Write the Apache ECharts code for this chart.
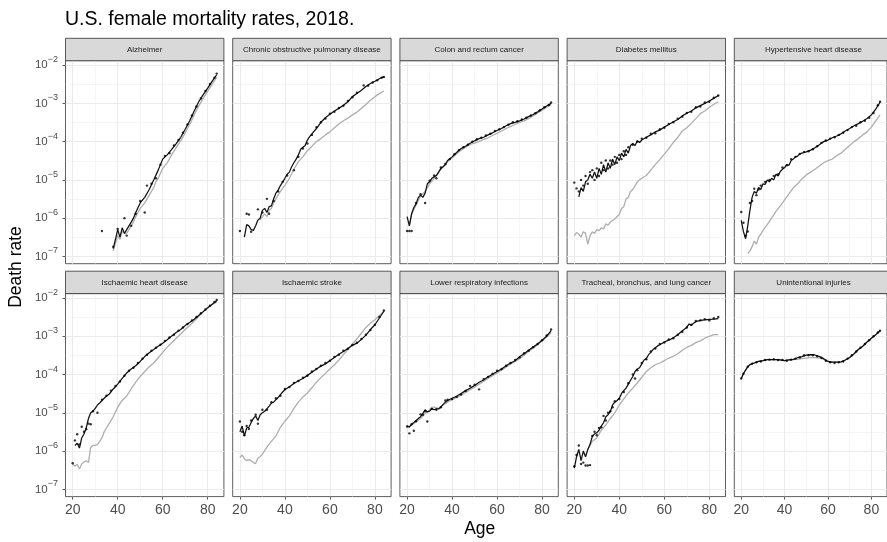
<!DOCTYPE html>
<html><head><meta charset="utf-8">
<script src="https://cdn.jsdelivr.net/npm/echarts@6/dist/echarts.min.js"></script>
<style>html,body{margin:0;padding:0;background:#fff}#c{width:887px;height:542px}</style>
</head><body><div id="c"></div><script>
const chartTitle = 'U.S. female mortality rates, 2018.';
const xTitle = 'Age';
const yTitle = 'Death rate';
const panelTitles = ['Alzheimer','Chronic obstructive pulmonary disease','Colon and rectum cancer','Diabetes mellitus','Hypertensive heart disease','Ischaemic heart disease','Ischaemic stroke','Lower respiratory infections','Tracheal, bronchus, and lung cancer','Unintentional injuries'];
const ageTicks = [20,40,60,80];
const rateTickExponents = [-7,-6,-5,-4,-3,-2];

// [age, death rate]
const alzheimerDots = [[33,4.6e-7],[38,1.8e-7],[40,5.2e-7],[43,1.0e-6],[44,3.5e-7],[46,6.3e-7],[48,1.3e-6],[50,2.8e-6],[52,1.4e-6],[53,7.1e-6],[55,7.9e-6],[57,1.1e-5],[59,2.5e-5],[61,4.2e-5],[63,5.0e-5],[65,7.9e-5],[67,1.1e-4],[69,1.7e-4],[71,2.8e-4],[73,4.8e-4],[75,8.3e-4],[77,1.35e-3],[79,2.1e-3],[81,3.2e-3],[83,4.7e-3],[84,6.0e-3]];
const alzheimerBlack = [[38,1.6e-7],[39,2.8e-7],[40,5.0e-7],[41,3.2e-7],[42,5.6e-7],[43,4.0e-7],[44,5.0e-7],[45,6.3e-7],[46,7.9e-7],[47,1.0e-6],[48,1.4e-6],[50,2.5e-6],[52,3.5e-6],[54,5.6e-6],[56,1.0e-5],[58,1.8e-5],[60,3.5e-5],[61,4.0e-5],[62,4.5e-5],[64,6.3e-5],[66,8.9e-5],[68,1.3e-4],[70,2.1e-4],[72,3.5e-4],[74,6.3e-4],[76,1.1e-3],[78,1.7e-3],[80,2.5e-3],[82,3.8e-3],[84,5.6e-3]];
const alzheimerGray = [[38,1.4e-7],[40,3.5e-7],[41,2.8e-7],[42,4.5e-7],[43,4.0e-7],[44,4.0e-7],[45,5.0e-7],[46,6.3e-7],[47,7.9e-7],[48,1.1e-6],[50,1.8e-6],[52,2.5e-6],[54,4.0e-6],[56,6.3e-6],[57,8.9e-6],[58,1.1e-5],[60,2.0e-5],[62,2.8e-5],[64,4.5e-5],[66,7.1e-5],[68,1.05e-4],[70,1.7e-4],[72,2.8e-4],[74,5.0e-4],[76,8.5e-4],[78,1.35e-3],[80,2.1e-3],[82,3.2e-3],[84,4.8e-3]];

const copdDots = [[20,4.6e-7],[23,1.3e-6],[24,1.25e-6],[25,4.4e-7],[28,1.7e-6],[30,1.4e-6],[32,3.2e-6],[33,1.3e-6],[35,2.8e-6],[37,5.0e-6],[39,8.9e-6],[41,1.3e-5],[44,1.8e-5],[46,4.0e-5],[48,6.6e-5],[50,8.9e-5],[52,1.5e-4],[54,2.4e-4],[56,3.2e-4],[58,4.0e-4],[60,5.4e-4],[62,6.0e-4],[64,7.6e-4],[66,8.7e-4],[68,1.15e-3],[70,1.45e-3],[72,1.9e-3],[75,2.95e-3],[77,2.9e-3],[79,3.5e-3],[81,4.0e-3],[83,4.7e-3],[84,4.9e-3]];
const copdBlack = [[22,3.2e-7],[23,6.8e-7],[24,6.3e-7],[25,5.0e-7],[26,4.8e-7],[27,6.3e-7],[28,8.9e-7],[29,1.0e-6],[30,1.6e-6],[31,1.8e-6],[32,1.4e-6],[33,2.0e-6],[34,2.1e-6],[35,3.2e-6],[36,4.5e-6],[37,5.4e-6],[38,7.1e-6],[40,1.1e-5],[41,1.4e-5],[42,1.6e-5],[43,2.2e-5],[44,2.8e-5],[45,3.5e-5],[46,4.5e-5],[47,6.3e-5],[48,7.1e-5],[49,7.9e-5],[50,1.1e-4],[51,1.35e-4],[52,1.6e-4],[54,2.2e-4],[56,3.2e-4],[58,4.2e-4],[60,5.2e-4],[62,6.3e-4],[64,7.4e-4],[66,8.9e-4],[68,1.1e-3],[70,1.5e-3],[72,1.8e-3],[74,2.2e-3],[76,2.75e-3],[78,3.3e-3],[80,3.8e-3],[82,4.4e-3],[84,5.0e-3]];
const copdGray = [[29,8.9e-7],[30,1.1e-6],[31,1.3e-6],[32,1.1e-6],[33,1.6e-6],[34,1.8e-6],[35,2.5e-6],[36,3.2e-6],[38,5.0e-6],[40,7.2e-6],[42,1.1e-5],[44,1.9e-5],[46,3.0e-5],[48,4.0e-5],[50,5.8e-5],[52,7.6e-5],[54,1.0e-4],[56,1.2e-4],[58,1.5e-4],[60,1.8e-4],[62,2.3e-4],[64,2.9e-4],[66,3.5e-4],[68,4.1e-4],[70,5.0e-4],[72,5.9e-4],[74,7.4e-4],[76,9.3e-4],[78,1.2e-3],[80,1.5e-3],[82,1.8e-3],[84,2.1e-3]];

const colonDots = [[20,4.6e-7],[21,4.6e-7],[22,4.6e-7],[24,2.5e-6],[26,4.2e-6],[28,2.5e-6],[30,9.5e-6],[32,1.3e-5],[33,1.1e-5],[35,2.1e-5],[37,2.6e-5],[39,3.5e-5],[41,4.7e-5],[43,6.0e-5],[45,7.1e-5],[47,8.3e-5],[49,1.0e-4],[51,1.15e-4],[53,1.26e-4],[55,1.45e-4],[57,1.6e-4],[59,1.9e-4],[61,2.1e-4],[63,2.4e-4],[65,2.75e-4],[67,3.2e-4],[69,3.4e-4],[71,3.8e-4],[73,4.2e-4],[75,4.8e-4],[77,5.5e-4],[79,6.6e-4],[81,7.9e-4],[83,9.1e-4],[84,1.05e-3]];
const colonBlack = [[20,1.1e-6],[21,6.3e-7],[22,1.3e-6],[23,1.9e-6],[24,2.4e-6],[25,3.5e-6],[26,4.0e-6],[27,3.5e-6],[28,4.5e-6],[29,7.9e-6],[30,8.9e-6],[31,1.1e-5],[32,1.2e-5],[33,1.3e-5],[34,1.6e-5],[35,2.0e-5],[36,2.2e-5],[37,2.5e-5],[38,3.2e-5],[40,4.0e-5],[42,5.2e-5],[44,6.6e-5],[46,7.6e-5],[48,9.1e-5],[50,1.05e-4],[52,1.2e-4],[54,1.3e-4],[56,1.5e-4],[58,1.7e-4],[60,1.95e-4],[62,2.2e-4],[64,2.6e-4],[66,2.95e-4],[68,3.2e-4],[70,3.5e-4],[72,3.9e-4],[74,4.5e-4],[76,5.1e-4],[78,6.0e-4],[80,7.1e-4],[82,8.5e-4],[84,1.0e-3]];
const colonGray = [[21,6.3e-7],[22,1.26e-6],[24,2.2e-6],[26,3.8e-6],[28,5.0e-6],[30,7.9e-6],[32,1.1e-5],[34,1.6e-5],[36,2.2e-5],[38,3.0e-5],[40,3.8e-5],[42,4.8e-5],[44,6.0e-5],[46,7.2e-5],[48,8.5e-5],[50,9.1e-5],[52,1.02e-4],[54,1.15e-4],[56,1.26e-4],[58,1.45e-4],[60,1.66e-4],[62,1.9e-4],[64,2.2e-4],[66,2.5e-4],[68,2.8e-4],[70,3.2e-4],[72,3.5e-4],[74,4.0e-4],[76,4.7e-4],[78,5.6e-4],[80,6.6e-4],[82,7.9e-4],[84,9.3e-4]];

const diabetesDots = [[20,8.5e-6],[21,6.0e-6],[22,5.0e-6],[23,1.0e-5],[24,7.1e-6],[25,1.26e-5],[26,7.9e-6],[27,1.6e-5],[28,1.8e-5],[29,1.0e-5],[30,2.0e-5],[31,1.26e-5],[32,2.8e-5],[33,1.8e-5],[34,3.2e-5],[35,2.0e-5],[36,3.2e-5],[37,2.5e-5],[38,4.0e-5],[39,2.8e-5],[40,4.5e-5],[41,3.5e-5],[42,5.6e-5],[43,4.5e-5],[44,7.1e-5],[46,8.3e-5],[48,1.0e-4],[50,1.2e-4],[52,1.26e-4],[54,1.6e-4],[56,1.66e-4],[58,2.1e-4],[60,2.3e-4],[62,2.9e-4],[64,3.2e-4],[66,4.0e-4],[68,4.5e-4],[70,5.6e-4],[72,6.0e-4],[74,7.9e-4],[76,8.3e-4],[78,1.05e-3],[80,1.1e-3],[82,1.4e-3],[84,1.6e-3]];
const diabetesBlack = [[22,3.6e-6],[23,6.3e-6],[24,5.0e-6],[25,8.9e-6],[26,1.0e-5],[27,1.4e-5],[28,1.1e-5],[29,1.6e-5],[30,1.1e-5],[31,2.0e-5],[32,1.4e-5],[33,2.5e-5],[34,1.6e-5],[35,2.8e-5],[36,2.0e-5],[37,3.5e-5],[38,2.5e-5],[39,4.0e-5],[40,3.2e-5],[41,5.0e-5],[42,4.0e-5],[43,6.3e-5],[44,5.0e-5],[45,7.9e-5],[46,8.9e-5],[47,7.9e-5],[48,1.05e-4],[49,9.5e-5],[50,1.1e-4],[52,1.3e-4],[54,1.5e-4],[56,1.8e-4],[58,2.0e-4],[60,2.4e-4],[62,2.8e-4],[64,3.3e-4],[66,3.8e-4],[68,4.7e-4],[70,5.5e-4],[72,6.3e-4],[74,7.6e-4],[76,8.7e-4],[78,1.0e-3],[80,1.15e-3],[82,1.35e-3],[84,1.6e-3]];
const diabetesGray = [[20,3.5e-7],[21,4.2e-7],[22,3.8e-7],[23,3.2e-7],[24,4.4e-7],[25,4.0e-7],[26,2.1e-7],[27,3.5e-7],[28,4.4e-7],[29,4.0e-7],[30,5.0e-7],[31,4.7e-7],[32,5.6e-7],[33,5.2e-7],[34,7.1e-7],[35,6.6e-7],[36,7.9e-7],[38,9.5e-7],[40,1.26e-6],[41,1.8e-6],[42,2.0e-6],[43,3.2e-6],[44,3.5e-6],[45,5.0e-6],[46,5.6e-6],[48,8.9e-6],[50,1.1e-5],[52,1.3e-5],[54,1.8e-5],[56,2.5e-5],[58,3.4e-5],[60,4.7e-5],[62,6.6e-5],[64,9.5e-5],[66,1.3e-4],[68,1.9e-4],[70,2.3e-4],[72,3.0e-4],[74,4.0e-4],[76,5.4e-4],[78,6.3e-4],[80,7.9e-4],[82,9.5e-4],[84,1.1e-3]];

const hypertensiveDots = [[20,1.45e-6],[21,7.6e-7],[22,3.5e-7],[23,4.5e-7],[24,2.5e-6],[25,2.8e-6],[26,5.9e-6],[27,4.0e-6],[28,5.6e-6],[29,7.1e-6],[31,8.9e-6],[33,1.0e-5],[35,1.26e-5],[37,1.4e-5],[39,2.1e-5],[41,2.4e-5],[43,3.5e-5],[45,4.0e-5],[47,4.8e-5],[49,5.4e-5],[51,5.6e-5],[53,6.3e-5],[55,7.6e-5],[57,9.3e-5],[59,1.07e-4],[61,1.2e-4],[63,1.3e-4],[65,1.5e-4],[67,1.7e-4],[69,2.0e-4],[71,2.4e-4],[73,2.6e-4],[75,3.2e-4],[77,3.5e-4],[79,4.2e-4],[81,5.6e-4],[83,8.9e-4],[84,1.1e-3]];
const hypertensiveBlack = [[20,8.7e-7],[21,4.5e-7],[22,2.9e-7],[23,6.3e-7],[24,1.6e-6],[25,3.5e-6],[26,5.0e-6],[27,4.5e-6],[28,6.3e-6],[29,5.6e-6],[30,7.9e-6],[31,7.6e-6],[32,1.0e-5],[33,8.9e-6],[34,1.1e-5],[35,1.0e-5],[36,1.4e-5],[37,1.26e-5],[38,1.66e-5],[39,1.9e-5],[40,2.1e-5],[41,2.5e-5],[42,2.4e-5],[43,3.2e-5],[44,3.5e-5],[45,4.0e-5],[46,4.2e-5],[47,4.8e-5],[48,5.0e-5],[50,5.4e-5],[52,6.0e-5],[54,6.9e-5],[56,8.3e-5],[58,1.0e-4],[60,1.1e-4],[62,1.26e-4],[64,1.4e-4],[66,1.6e-4],[68,1.9e-4],[70,2.2e-4],[72,2.6e-4],[74,2.95e-4],[76,3.4e-4],[78,4.0e-4],[80,5.0e-4],[82,7.1e-4],[84,1.07e-3]];
const hypertensiveGray = [[23,1.2e-7],[24,1.4e-7],[25,1.8e-7],[26,2.5e-7],[27,2.1e-7],[28,3.2e-7],[29,3.8e-7],[30,4.8e-7],[32,6.8e-7],[34,1.0e-6],[36,1.5e-6],[38,2.1e-6],[40,3.0e-6],[42,4.3e-6],[44,6.2e-6],[46,7.9e-6],[48,1.07e-5],[50,1.35e-5],[52,1.6e-5],[54,1.9e-5],[56,2.3e-5],[58,2.8e-5],[60,3.2e-5],[62,3.5e-5],[64,4.3e-5],[66,5.0e-5],[68,6.3e-5],[70,7.9e-5],[72,1.0e-4],[74,1.2e-4],[76,1.5e-4],[78,1.8e-4],[80,2.4e-4],[82,3.5e-4],[84,5.0e-4]];

const ischHeartDots = [[20,4.8e-7],[21,1.9e-6],[22,2.75e-6],[23,1.5e-6],[24,4.3e-6],[25,3.2e-6],[26,3.7e-6],[27,5.2e-6],[28,5.0e-6],[29,1.1e-5],[31,1.0e-5],[33,2.2e-5],[35,2.8e-5],[37,3.8e-5],[39,5.0e-5],[41,6.6e-5],[43,9.3e-5],[45,1.26e-4],[47,1.5e-4],[49,2.0e-4],[51,2.6e-4],[53,3.3e-4],[55,4.2e-4],[57,5.0e-4],[59,6.0e-4],[61,7.6e-4],[63,9.3e-4],[65,1.1e-3],[67,1.4e-3],[69,1.7e-3],[71,2.1e-3],[73,2.6e-3],[75,3.2e-3],[77,4.0e-3],[79,5.0e-3],[81,6.3e-3],[83,7.9e-3],[84,8.9e-3]];
const ischHeartBlack = [[21,1.4e-6],[22,1.6e-6],[23,1.2e-6],[24,2.2e-6],[25,2.8e-6],[26,4.0e-6],[27,7.1e-6],[28,1.0e-5],[29,1.1e-5],[30,1.3e-5],[31,1.6e-5],[32,1.8e-5],[33,2.1e-5],[34,2.4e-5],[35,2.75e-5],[36,3.0e-5],[37,3.5e-5],[38,4.2e-5],[39,4.8e-5],[40,5.6e-5],[42,7.9e-5],[44,1.1e-4],[46,1.4e-4],[48,1.7e-4],[50,2.2e-4],[52,2.95e-4],[54,3.7e-4],[56,4.5e-4],[58,5.5e-4],[60,6.6e-4],[62,8.1e-4],[64,1.02e-3],[66,1.26e-3],[68,1.5e-3],[70,1.9e-3],[72,2.3e-3],[74,2.8e-3],[76,3.5e-3],[78,4.4e-3],[80,5.6e-3],[82,6.9e-3],[84,8.5e-3]];
const ischHeartGray = [[20,4.6e-7],[21,4.0e-7],[22,4.5e-7],[23,3.4e-7],[24,4.6e-7],[25,5.2e-7],[26,5.6e-7],[27,5.0e-7],[28,1.26e-6],[29,1.4e-6],[30,1.4e-6],[31,1.5e-6],[32,1.8e-6],[33,2.2e-6],[34,3.2e-6],[35,4.0e-6],[36,5.0e-6],[38,7.9e-6],[40,1.4e-5],[42,2.1e-5],[44,2.75e-5],[46,4.2e-5],[48,6.3e-5],[50,8.9e-5],[52,1.2e-4],[54,1.6e-4],[56,2.0e-4],[58,2.75e-4],[60,3.8e-4],[62,5.2e-4],[64,6.8e-4],[66,8.9e-4],[68,1.15e-3],[70,1.5e-3],[72,1.9e-3],[74,2.5e-3],[76,3.3e-3],[78,4.4e-3],[80,5.5e-3],[82,6.8e-3],[84,7.8e-3]];

const strokeDots = [[20,5.9e-6],[21,3.2e-6],[22,2.6e-6],[23,4.5e-6],[24,3.8e-6],[25,6.3e-6],[27,8.9e-6],[28,5.2e-6],[30,1.2e-5],[32,1.2e-5],[34,1.9e-5],[36,2.4e-5],[38,2.8e-5],[40,4.2e-5],[42,4.7e-5],[44,6.0e-5],[46,6.8e-5],[48,8.3e-5],[50,9.3e-5],[52,1.2e-4],[54,1.4e-4],[56,1.7e-4],[58,2.0e-4],[60,2.3e-4],[62,2.9e-4],[64,3.3e-4],[66,4.2e-4],[68,4.7e-4],[70,5.9e-4],[72,6.8e-4],[74,8.5e-4],[76,1.1e-3],[78,1.45e-3],[80,2.0e-3],[82,3.2e-3],[84,4.7e-3]];
const strokeBlack = [[20,3.2e-6],[21,4.5e-6],[22,2.5e-6],[23,4.0e-6],[24,4.2e-6],[25,5.6e-6],[26,7.1e-6],[27,8.3e-6],[28,6.3e-6],[29,8.9e-6],[30,1.0e-5],[31,1.1e-5],[32,1.26e-5],[33,1.5e-5],[34,1.8e-5],[35,1.9e-5],[36,2.2e-5],[37,2.5e-5],[38,3.0e-5],[39,3.5e-5],[40,4.0e-5],[42,4.8e-5],[44,5.8e-5],[46,6.9e-5],[48,7.9e-5],[50,9.5e-5],[52,1.15e-4],[54,1.4e-4],[56,1.66e-4],[58,1.9e-4],[60,2.3e-4],[62,2.8e-4],[64,3.4e-4],[66,4.0e-4],[68,4.8e-4],[70,5.8e-4],[72,6.6e-4],[74,8.3e-4],[76,1.07e-3],[78,1.5e-3],[80,2.0e-3],[82,3.0e-3],[84,4.5e-3]];
const strokeGray = [[20,6.8e-7],[21,7.9e-7],[22,6.3e-7],[23,5.6e-7],[24,6.0e-7],[25,5.6e-7],[26,5.0e-7],[27,4.7e-7],[28,6.6e-7],[29,7.1e-7],[30,8.3e-7],[32,1.26e-6],[34,1.8e-6],[36,2.5e-6],[38,4.2e-6],[40,6.0e-6],[42,8.3e-6],[44,1.3e-5],[46,1.9e-5],[48,2.6e-5],[50,3.3e-5],[52,4.5e-5],[54,6.3e-5],[56,8.3e-5],[58,1.07e-4],[60,1.4e-4],[62,1.8e-4],[64,2.4e-4],[66,3.3e-4],[68,4.5e-4],[70,6.3e-4],[72,8.5e-4],[74,1.2e-3],[76,1.7e-3],[78,2.2e-3],[80,2.7e-3],[82,3.5e-3],[84,4.5e-3]];

const respiratoryDots = [[20,4.4e-6],[21,2.9e-6],[22,5.0e-6],[23,3.4e-6],[24,6.0e-6],[26,9.1e-6],[27,8.9e-6],[28,1.1e-5],[29,5.9e-6],[31,1.26e-5],[33,1.2e-5],[35,1.4e-5],[37,2.1e-5],[38,2.2e-5],[40,2.3e-5],[42,2.6e-5],[44,3.0e-5],[46,3.7e-5],[48,5.0e-5],[50,5.4e-5],[52,4.1e-5],[54,7.6e-5],[56,8.7e-5],[58,1.05e-4],[60,1.26e-4],[62,1.4e-4],[64,1.7e-4],[66,2.0e-4],[68,2.4e-4],[70,2.8e-4],[72,3.6e-4],[74,4.2e-4],[76,5.2e-4],[78,6.3e-4],[80,7.9e-4],[82,1.05e-3],[84,1.5e-3]];
const respiratoryBlack = [[20,4.6e-6],[21,4.2e-6],[22,5.0e-6],[23,5.6e-6],[24,6.3e-6],[25,7.1e-6],[26,7.9e-6],[27,9.5e-6],[28,1.2e-5],[29,1.05e-5],[30,1.1e-5],[31,1.3e-5],[32,1.2e-5],[33,1.26e-5],[34,1.26e-5],[35,1.4e-5],[36,1.66e-5],[37,1.9e-5],[38,2.1e-5],[40,2.4e-5],[42,2.7e-5],[44,3.2e-5],[46,3.8e-5],[48,4.4e-5],[50,5.2e-5],[52,6.3e-5],[54,7.2e-5],[56,8.7e-5],[58,1.02e-4],[60,1.2e-4],[62,1.4e-4],[64,1.7e-4],[66,2.0e-4],[68,2.3e-4],[70,2.9e-4],[72,3.5e-4],[74,4.3e-4],[76,5.2e-4],[78,6.3e-4],[80,7.9e-4],[82,1.0e-3],[84,1.4e-3]];
const respiratoryGray = [[20,4.2e-6],[22,4.8e-6],[24,5.8e-6],[26,7.1e-6],[28,9.5e-6],[30,1.2e-5],[31,1.4e-5],[32,1.4e-5],[34,1.3e-5],[36,1.6e-5],[38,1.9e-5],[40,2.2e-5],[42,2.5e-5],[44,2.9e-5],[46,3.4e-5],[48,4.0e-5],[50,4.7e-5],[52,5.6e-5],[54,6.6e-5],[56,7.9e-5],[58,9.3e-5],[60,1.1e-4],[62,1.3e-4],[64,1.55e-4],[66,1.9e-4],[68,2.2e-4],[70,2.6e-4],[72,3.2e-4],[74,4.0e-4],[76,4.9e-4],[78,6.0e-4],[80,7.6e-4],[82,9.5e-4],[84,1.26e-3]];

const lungDots = [[20,4.0e-7],[21,7.9e-7],[22,1.4e-6],[23,4.6e-7],[24,5.0e-7],[25,4.2e-7],[26,4.2e-7],[27,4.3e-7],[28,2.5e-6],[29,3.2e-6],[30,2.6e-6],[31,4.0e-6],[32,4.2e-6],[33,8.3e-6],[34,6.3e-6],[35,1.0e-5],[36,1.1e-5],[37,1.4e-5],[38,2.0e-5],[40,2.3e-5],[42,3.5e-5],[44,5.9e-5],[46,1.0e-4],[47,7.9e-5],[48,1.3e-4],[50,2.0e-4],[52,2.5e-4],[54,4.0e-4],[56,4.8e-4],[58,6.3e-4],[60,6.9e-4],[62,8.3e-4],[64,8.9e-4],[66,1.1e-3],[68,1.3e-3],[70,1.7e-3],[72,2.0e-3],[74,2.5e-3],[76,2.6e-3],[78,2.8e-3],[80,2.6e-3],[82,2.95e-3],[84,3.2e-3]];
const lungBlack = [[20,3.6e-7],[21,7.1e-7],[22,1.1e-6],[23,5.6e-7],[24,1.0e-6],[25,7.1e-7],[26,1.1e-6],[27,1.5e-6],[28,2.4e-6],[29,2.8e-6],[30,3.0e-6],[31,3.5e-6],[32,4.5e-6],[33,5.5e-6],[34,7.9e-6],[35,8.9e-6],[36,1.07e-5],[37,1.6e-5],[38,1.9e-5],[39,2.1e-5],[40,2.4e-5],[41,3.2e-5],[42,3.8e-5],[43,4.4e-5],[44,5.6e-5],[45,7.1e-5],[46,8.9e-5],[47,1.2e-4],[48,1.4e-4],[49,1.5e-4],[50,1.9e-4],[51,2.4e-4],[52,2.6e-4],[53,3.3e-4],[54,3.8e-4],[55,4.5e-4],[56,5.0e-4],[57,5.6e-4],[58,6.0e-4],[60,7.1e-4],[62,7.9e-4],[64,9.1e-4],[66,1.1e-3],[68,1.4e-3],[70,1.7e-3],[71,2.1e-3],[72,1.9e-3],[73,2.2e-3],[74,2.4e-3],[76,2.6e-3],[78,2.7e-3],[80,2.75e-3],[82,2.8e-3],[84,2.9e-3]];
const lungGray = [[26,1.1e-6],[28,1.8e-6],[30,2.2e-6],[32,3.5e-6],[34,4.8e-6],[36,7.1e-6],[38,1.0e-5],[40,1.6e-5],[42,2.3e-5],[44,3.3e-5],[46,4.4e-5],[48,6.0e-5],[50,8.5e-5],[52,1.2e-4],[54,1.5e-4],[56,1.8e-4],[58,2.0e-4],[60,2.3e-4],[62,2.7e-4],[64,3.0e-4],[66,3.5e-4],[68,4.3e-4],[70,5.1e-4],[72,5.8e-4],[74,6.8e-4],[76,7.6e-4],[78,8.9e-4],[80,1.0e-3],[82,1.1e-3],[84,1.1e-3]];

const injuriesDots = [[20,7.9e-5],[21,1.05e-4],[23,1.6e-4],[25,1.9e-4],[27,2.1e-4],[29,2.2e-4],[31,2.4e-4],[33,2.45e-4],[35,2.5e-4],[37,2.4e-4],[39,2.4e-4],[41,2.3e-4],[43,2.45e-4],[45,2.6e-4],[47,2.8e-4],[49,3.2e-4],[51,3.2e-4],[53,3.2e-4],[55,3.0e-4],[57,2.75e-4],[59,2.3e-4],[61,2.1e-4],[63,2.0e-4],[65,2.1e-4],[67,2.2e-4],[69,2.6e-4],[71,3.2e-4],[73,4.0e-4],[75,5.0e-4],[77,6.3e-4],[79,7.9e-4],[81,1.0e-3],[83,1.26e-3],[84,1.4e-3]];
const injuriesBlack = [[20,7.9e-5],[21,1.05e-4],[22,1.3e-4],[23,1.6e-4],[24,1.8e-4],[25,1.95e-4],[26,2.0e-4],[28,2.2e-4],[30,2.3e-4],[32,2.45e-4],[34,2.45e-4],[36,2.45e-4],[38,2.4e-4],[40,2.3e-4],[42,2.4e-4],[44,2.5e-4],[46,2.75e-4],[48,2.95e-4],[50,3.2e-4],[52,3.3e-4],[54,3.24e-4],[56,2.95e-4],[58,2.6e-4],[60,2.2e-4],[62,2.1e-4],[64,2.1e-4],[66,2.15e-4],[68,2.4e-4],[70,2.8e-4],[72,3.5e-4],[74,4.5e-4],[76,5.5e-4],[78,7.1e-4],[80,8.9e-4],[82,1.1e-3],[84,1.4e-3]];
const injuriesGray = [[20,7.9e-5],[21,1.05e-4],[22,1.3e-4],[23,1.6e-4],[24,1.8e-4],[25,1.95e-4],[26,2.0e-4],[28,2.2e-4],[30,2.3e-4],[32,2.45e-4],[34,2.45e-4],[36,2.45e-4],[38,2.4e-4],[40,2.3e-4],[42,2.4e-4],[44,2.45e-4],[46,2.5e-4],[48,2.6e-4],[50,2.7e-4],[52,2.75e-4],[54,2.75e-4],[56,2.7e-4],[58,2.5e-4],[60,2.2e-4],[62,2.1e-4],[64,2.1e-4],[66,2.15e-4],[68,2.4e-4],[70,2.8e-4],[72,3.5e-4],[74,4.5e-4],[76,5.5e-4],[78,7.1e-4],[80,8.9e-4],[82,1.1e-3],[84,1.4e-3]];

const panelDots = [alzheimerDots, copdDots, colonDots, diabetesDots, hypertensiveDots, ischHeartDots, strokeDots, respiratoryDots, lungDots, injuriesDots];
const panelBlack = [alzheimerBlack, copdBlack, colonBlack, diabetesBlack, hypertensiveBlack, ischHeartBlack, strokeBlack, respiratoryBlack, lungBlack, injuriesBlack];
const panelGray = [alzheimerGray, copdGray, colonGray, diabetesGray, hypertensiveGray, ischHeartGray, strokeGray, respiratoryGray, lungGray, injuriesGray];

const FONT = "'Liberation Sans', Arial, Helvetica, sans-serif";
const L0 = 65.5, DX = 167.2, PW = 158.4, PH = 203, TOPS = [60.7, 293.6], STRIP = 22.4;
const YMIN = -7.19, YMAX = -1.885, XMIN = 16.8, XMAX = 87.2;
const toLog = arr => arr.map(d => [d[0], Math.log10(d[1])]);

const grids = [], xAxes = [], yAxes = [], series = [], graphics = [];
panelTitles.forEach((title, i) => {
  const r = Math.floor(i / 5), c = i % 5;
  const left = L0 + c * DX, top = TOPS[r];
  grids.push({left: left, top: top, width: PW, height: PH, show: true, borderColor: '#333333', borderWidth: 0.8, backgroundColor: '#ffffff', z: 0});
  xAxes.push({
    gridIndex: i, type: 'value', min: XMIN, max: XMAX, splitNumber: 3,
    axisLine: {show: false},
    axisTick: {show: r === 1, length: 3, customValues: ageTicks, lineStyle: {color: '#333333', width: 0.8}},
    axisLabel: {show: r === 1, customValues: ageTicks, fontSize: 14, color: '#4D4D4D', fontFamily: FONT, margin: 13.7, verticalAlign: 'middle', formatter: v => String(v)},
    splitLine: {show: true, lineStyle: {color: '#EBEBEB', width: 1.1}},
    minorTick: {show: false, splitNumber: 2},
    minorSplitLine: {show: true, lineStyle: {color: '#EFEFEF', width: 0.55}}
  });
  yAxes.push({
    gridIndex: i, type: 'value', min: YMIN, max: YMAX,
    axisLine: {show: false},
    axisTick: {show: c === 0, length: 3, customValues: rateTickExponents, lineStyle: {color: '#333333', width: 0.8}},
    axisLabel: {show: c === 0, customValues: rateTickExponents, margin: 7.5, align: 'right', verticalAlign: 'middle',
      formatter: v => '{b|10}{s|\u2212' + Math.round(-v) + '}',
      rich: {
        b: {fontSize: 11.5, color: '#4D4D4D', fontFamily: FONT, lineHeight: 20, verticalAlign: 'middle'},
        s: {fontSize: 9, color: '#4D4D4D', fontFamily: FONT, lineHeight: 8, verticalAlign: 'top'}
      }},
    splitLine: {show: true, lineStyle: {color: '#EBEBEB', width: 1.1}},
    minorTick: {show: false, splitNumber: 2},
    minorSplitLine: {show: true, lineStyle: {color: '#EFEFEF', width: 0.55}}
  });
  series.push({type: 'line', xAxisIndex: i, yAxisIndex: i, data: toLog(panelGray[i]), showSymbol: false, symbol: 'none', lineStyle: {color: '#AEAEAE', width: 1.3}, z: 2, silent: true});
  series.push({type: 'line', xAxisIndex: i, yAxisIndex: i, data: toLog(panelBlack[i]), showSymbol: false, symbol: 'none', lineStyle: {color: '#111111', width: 1.25}, z: 3, silent: true});
  series.push({type: 'scatter', xAxisIndex: i, yAxisIndex: i, data: toLog(panelDots[i]), symbol: 'circle', symbolSize: 2.4, itemStyle: {color: '#000000'}, z: 4, silent: true});
  graphics.push({type: 'rect', shape: {x: left, y: top - STRIP, width: PW, height: STRIP}, style: {fill: '#D9D9D9', stroke: '#333333', lineWidth: 0.8}, z: 10});
  graphics.push({type: 'text', x: left + PW / 2, y: top - STRIP / 2, style: {text: title, fontSize: 8, fontFamily: FONT, fill: '#1A1A1A', align: 'center', verticalAlign: 'middle'}, z: 11});
});
graphics.push({type: 'text', x: 65, y: 19.5, style: {text: chartTitle, fontSize: 19.5, fontFamily: FONT, fill: '#000000', align: 'left', verticalAlign: 'middle'}, z: 11});
graphics.push({type: 'text', x: 479.7, y: 529, style: {text: xTitle, fontSize: 17.5, fontFamily: FONT, fill: '#000000', align: 'center', verticalAlign: 'middle'}, z: 11});
graphics.push({type: 'text', x: 16, y: 267, rotation: Math.PI / 2, style: {text: yTitle, fontSize: 17.5, fontFamily: FONT, fill: '#000000', align: 'center', verticalAlign: 'middle'}, z: 11});

const chart = echarts.init(document.getElementById('c'), null, {renderer: 'canvas'});
chart.setOption({
  animation: false,
  backgroundColor: '#ffffff',
  grid: grids, xAxis: xAxes, yAxis: yAxes, series: series, graphic: graphics
});
</script></body></html>
